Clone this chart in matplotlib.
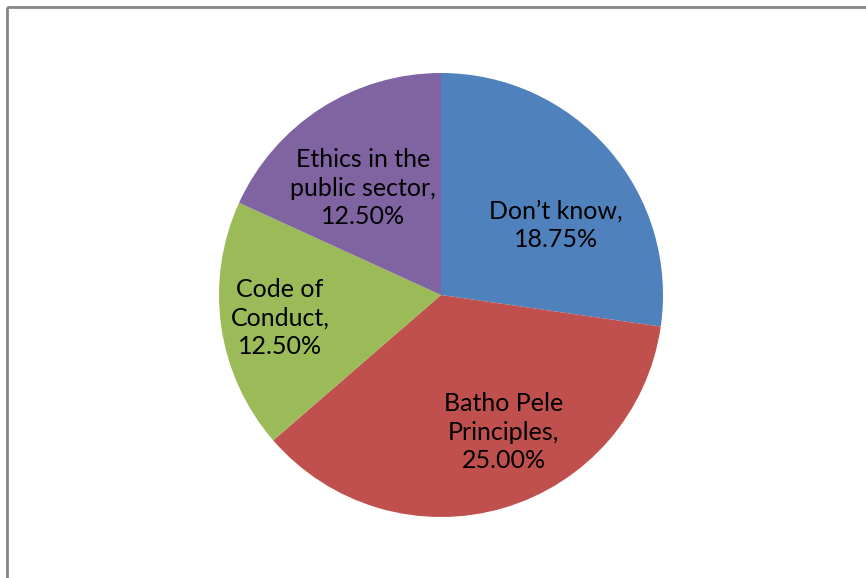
import matplotlib.pyplot as plt
from matplotlib.patches import Rectangle

labels = ["Don\u2019t know", "Batho Pele\nPrinciples", "Code of\nConduct", "Ethics in the\npublic sector"]
values = [18.75, 25.00, 12.50, 12.50]
colors = ["#4F81BD", "#C0504D", "#9BBB59", "#8064A2"]

# label centres in pixel space (x, y from top-left)
label_pos = [(556, 225), (504, 432), (280, 318), (363, 188)]

fig = plt.figure(figsize=(8.66, 5.78), dpi=100)
ax = fig.add_axes([0, 0, 1, 1])

# y axis runs downwards, so the angles are mirrored: start at -90 and go counter-clockwise
wedges, _ = ax.pie(values, colors=colors, startangle=-90, counterclock=True,
                   center=(441, 295), radius=222,
                   wedgeprops=dict(linewidth=0))

ax.set_xlim(0, 866)
ax.set_ylim(578, 0)
ax.set_aspect("equal")
ax.axis("off")

# chart area border
ax.add_patch(Rectangle((7, 7), 880, 600, fill=False, edgecolor="#868686", linewidth=2))

for lab, val, (x, y) in zip(labels, values, label_pos):
    ax.text(x, y, f"{lab},\n{val:.2f}%", ha="center", va="center",
            fontsize=18, family="Lato", linespacing=1.3, color="black")

fig.savefig("out.png", dpi=100)
